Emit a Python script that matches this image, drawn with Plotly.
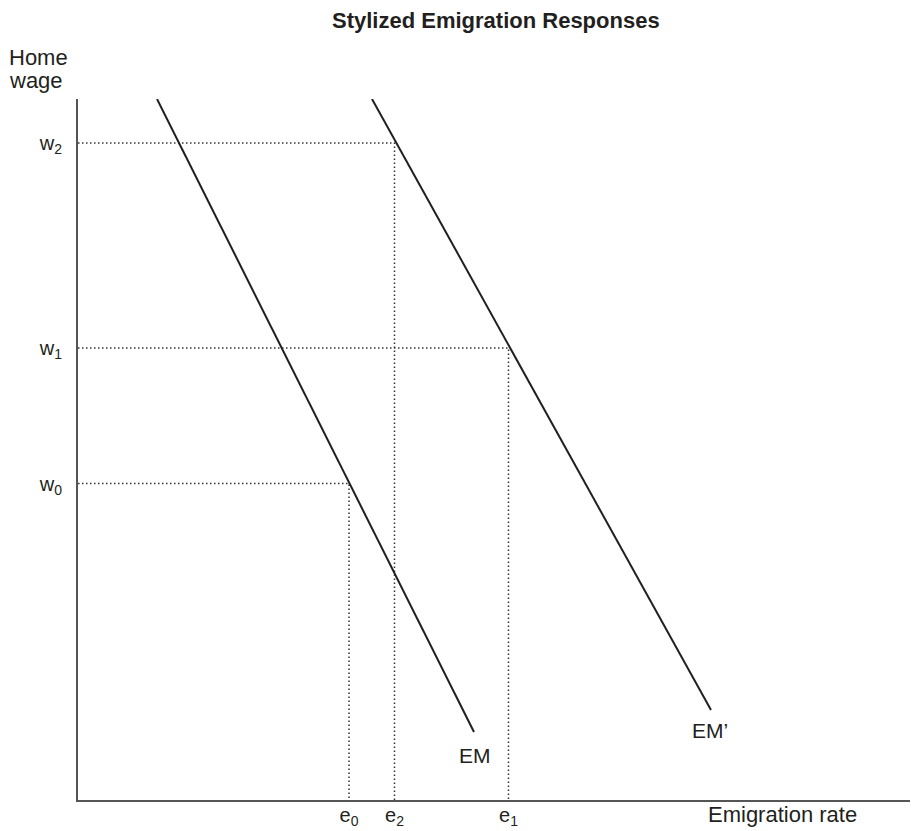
import plotly.graph_objects as go

# ---- data (abstract units: emigration rate on x, home wage on y) ----
em_x = [79, 396]
em_y = [701, 68]
em_prime_x = [294, 633]
em_prime_y = [701, 90]

wage_levels = [316.5, 452, 657]          # w0, w1, w2
wage_labels = ["w<sub>0</sub>", "w<sub>1</sub>", "w<sub>2</sub>"]
emig_levels = [271, 316.5, 430.5]        # e0, e2, e1
emig_labels = ["e<sub>0</sub>", "e<sub>2</sub>", "e<sub>1</sub>"]
# pairs (e, w) for the dotted guide lines
guide_e = [271, 430.5, 316.5]
guide_w = [316.5, 452, 657]

x_range = [0, 837]
y_range = [0, 701]

FONT = "Liberation Sans, Arial, Helvetica, sans-serif"
TXT = "#231f20"

fig = go.Figure()

# dotted guides
for e, w in zip(guide_e, guide_w):
    fig.add_trace(go.Scatter(
        x=[0, e, e], y=[w, w, 0], mode="lines",
        line=dict(color="#333333", width=1.5, dash="1.5px,2.5px"),
        hoverinfo="skip", showlegend=False))

# curves
fig.add_trace(go.Scatter(x=em_x, y=em_y, mode="lines",
                         line=dict(color="#231f20", width=2),
                         showlegend=False, name="EM"))
fig.add_trace(go.Scatter(x=em_prime_x, y=em_prime_y, mode="lines",
                         line=dict(color="#231f20", width=2),
                         showlegend=False, name="EM'"))

# curve labels (data coordinates)
for x, y, t in [(397, 45, "EM"), (632, 70, "EM’")]:
    fig.add_annotation(xref="x", yref="y", x=x, y=y, text=t, showarrow=False,
                       xanchor="center", yanchor="middle",
                       font=dict(family=FONT, color=TXT, size=21))

# labels outside the plot area (paper coordinates)
paper_annos = [
    dict(x=0.8411, y=-0.020, text="Emigration rate", size=22, xanchor="center"),
    dict(x=-0.0850, y=1.0595, text="Home", size=22, xanchor="left"),
    dict(x=-0.0850, y=1.0267, text="wage", size=22, xanchor="left"),
    dict(x=0.4994, y=1.1113, text="<b>Stylized Emigration Responses</b>", size=22,
         xanchor="center"),
]
for a in paper_annos:
    fig.add_annotation(xref="paper", yref="paper", x=a["x"], y=a["y"], text=a["text"],
                       showarrow=False, xanchor=a["xanchor"], yanchor="middle",
                       font=dict(family=FONT, color=TXT, size=a["size"]))

axis_common = dict(showline=True, linecolor="#555555", linewidth=2,
                   showgrid=False, zeroline=False, ticks="outside",
                   tickcolor="rgba(0,0,0,0)", automargin=False,
                   tickfont=dict(family=FONT, size=20, color=TXT))

fig.update_xaxes(range=x_range, tickvals=emig_levels, ticktext=emig_labels,
                 ticklen=0, ticklabelstandoff=-4, **axis_common)
fig.update_yaxes(range=y_range, tickvals=wage_levels, ticktext=wage_labels,
                 ticklen=10, **axis_common)

# page body adds an 8px offset; figure sized so the plot area lands at the
# reference position (left 78, top 99, bottom 800, right 915)
fig.update_layout(width=910, height=823,
                  margin=dict(l=70, r=3, t=91, b=31),
                  plot_bgcolor="white", paper_bgcolor="white",
                  font=dict(family=FONT, color=TXT))

fig.write_html("out.html")
